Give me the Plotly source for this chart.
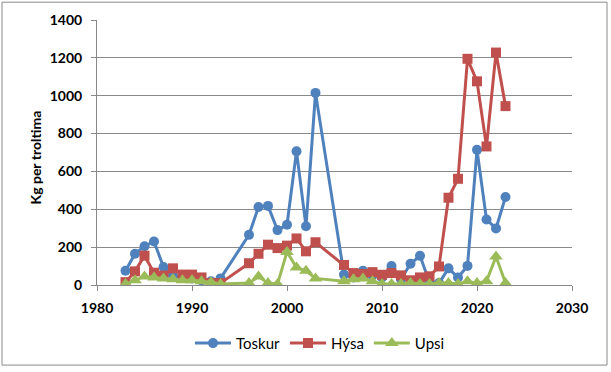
import plotly.graph_objects as go

years = [1983, 1984, 1985, 1986, 1987, 1988, 1989, 1990, 1991, 1992, 1993,
         1996, 1997, 1998, 1999, 2000, 2001, 2002, 2003,
         2006, 2007, 2008, 2009, 2010, 2011, 2012, 2013, 2014, 2015, 2016,
         2017, 2018, 2019, 2020, 2021, 2022, 2023]

toskur = [75, 165, 205, 230, 95, 50, 40, 35, 25, 20, 35,
          265, 412, 418, 290, 318, 706, 310, 1015,
          55, 40, 75, 50, 40, 100, 30, 112, 154, 15, 10,
          88, 40, 101, 714, 346, 299, 465]

hysa = [15, 72, 155, 65, 50, 88, 55, 55, 40, 10, 10,
        115, 165, 213, 195, 208, 246, 178, 226,
        106, 63, 58, 68, 54, 63, 51, 25, 40, 46, 98,
        461, 561, 1195, 1076, 732, 1228, 945]

upsi = [5, 25, 45, 40, 35, 30, 25, 25, 20, 15, 5,
        10, 45, 10, 5, 175, 92, 75, 35,
        20, 30, 35, 20, 5, 5, 5, 10, 5, 5, 10,
        10, 5, 20, 10, 20, 150, 10]

series_names = ["Toskur", "Hýsa", "Upsi"]
colors = ["#4F81BD", "#C0504D", "#9BBB59"]
symbols = ["circle", "square", "triangle-up"]

fig = go.Figure()
for name, vals, col, sym in zip(series_names, [toskur, hysa, upsi], colors, symbols):
    fig.add_trace(go.Scatter(
        x=years, y=vals, name=name, mode="lines+markers",
        line=dict(color=col, width=3),
        marker=dict(symbol=sym, size=10 if sym != "triangle-up" else 12, color=col),
    ))

W, H = 611, 372
ml, mr, mt, mb = 97, 39, 20, 84
pw, ph = W - ml - mr, H - mt - mb
font_fam = "Lato, Open Sans, sans-serif"

fig.update_layout(
    width=W, height=H,
    margin=dict(l=ml, r=mr, t=mt, b=mb, pad=0),
    paper_bgcolor="white", plot_bgcolor="white",
    font=dict(family=font_fam, color="#000000"),
    showlegend=True,
    legend=dict(orientation="h", x=(320 - ml) / pw, xanchor="center",
                y=-(347 - mt - ph) / ph, yanchor="middle",
                font=dict(size=15, family=font_fam),
                itemwidth=36, tracegroupgap=0),
    xaxis=dict(range=[1980, 2030], tickvals=[1980, 1990, 2000, 2010, 2020, 2030],
               showgrid=False, zeroline=False, showline=True, linecolor="#888888",
               linewidth=1, ticks="outside", ticklen=5, tickcolor="#888888",
               ticklabelstandoff=5,
               tickfont=dict(size=14, family=font_fam, weight="bold")),
    yaxis=dict(range=[0, 1400], tickvals=[0, 200, 400, 600, 800, 1000, 1200, 1400],
               showgrid=True, gridcolor="#8a8a8a", gridwidth=1, zeroline=False,
               showline=True, linecolor="#888888", linewidth=1,
               ticks="outside", ticklen=5, tickcolor="#888888",
               ticklabelstandoff=6,
               tickfont=dict(size=14, family=font_fam, weight="bold")),
    shapes=[dict(type="rect", xref="paper", yref="paper",
                 x0=(2 - ml) / pw, x1=(607 - ml) / pw,
                 y0=-(369 - mt - ph) / ph, y1=1 + (mt - 2) / ph,
                 line=dict(color="#8a8a8a", width=1), fillcolor="rgba(0,0,0,0)",
                 layer="below")],
    annotations=[dict(text="Kg per troltima", xref="paper", yref="paper",
                      x=(35 - ml) / pw, y=(287 - 158) / ph, xanchor="center",
                      yanchor="middle", textangle=-90, showarrow=False,
                      font=dict(size=14, family=font_fam, weight="bold"))],
)

fig.write_html("out.html", config={"displayModeBar": False},
               post_script="document.body.style.margin='0px';")
